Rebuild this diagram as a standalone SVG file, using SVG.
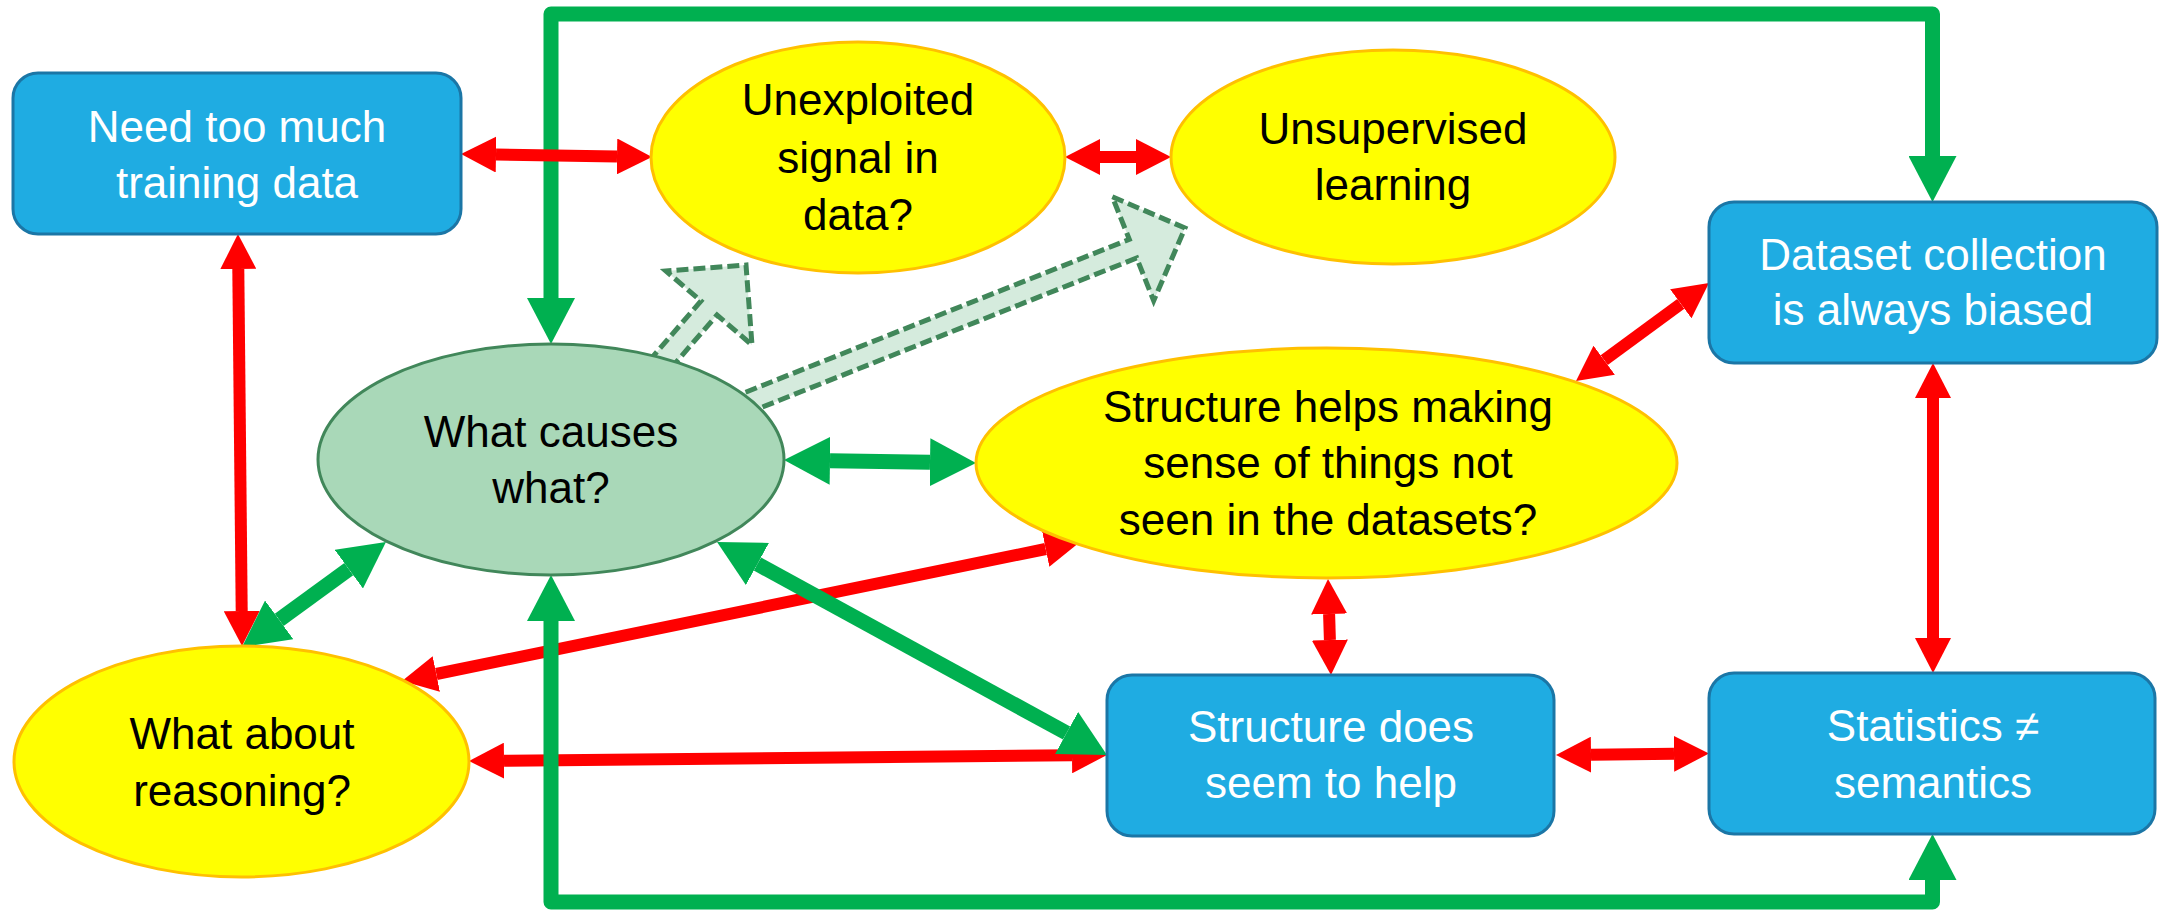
<svg xmlns="http://www.w3.org/2000/svg" width="2167" height="910" viewBox="0 0 2167 910">
<style>
.box{fill:#1FACE2;stroke:#1B76A6;stroke-width:3}
.yel{fill:#FFFF00;stroke:#FFC000;stroke-width:3}
.grn{fill:#A9D8B8;stroke:#41875A;stroke-width:3}
.t{font-family:"Liberation Sans",Arial,sans-serif;font-size:44px;text-anchor:middle}
.w{fill:#FFFFFF}
.k{fill:#000000}
.r{fill:none;stroke:#FF0000;stroke-width:12;marker-start:url(#rh);marker-end:url(#rh)}
.g{fill:none;stroke:#00B050;stroke-width:15;stroke-linejoin:round;marker-start:url(#gh);marker-end:url(#gh)}
.d{fill:#D5EBDD;stroke:#41875A;stroke-width:5;stroke-dasharray:12 5;stroke-linejoin:miter}
</style>
<defs>
<marker id="rh" viewBox="0 0 35 36" refX="0" refY="18" markerWidth="35" markerHeight="36" markerUnits="userSpaceOnUse" orient="auto-start-reverse">
<path d="M0,0 L35,18 L0,36 Z" fill="#FF0000"/>
</marker>
<marker id="gh" viewBox="0 0 46 48" refX="0" refY="24" markerWidth="46" markerHeight="48" markerUnits="userSpaceOnUse" orient="auto-start-reverse">
<path d="M0,0 L46,24 L0,48 Z" fill="#00B050"/>
</marker>
</defs>
<rect width="2167" height="910" fill="#FFFFFF"/>
<g id="connectors">
<polygon class="d" points="649,361 701,301 666,271 746,265 752,345 717,315 665,375"/>
<polygon class="d" points="729.8,398.5 1129.3,239.4 1112.3,196.7 1185,228 1153.7,300.7 1136.7,258 737.2,417.1"/>
<path class="g" d="M551,298 L551,14 L1932.5,14 L1932.5,156"/>
<path class="r" d="M496,154.5 L617,156.5"/>
<path class="r" d="M1100,157 L1136,157"/>
<path class="r" d="M238.3,269 L241.7,611"/>
<path class="r" d="M436.3,674 L1045.7,549"/>
<path class="r" d="M504,760.7 L1072,755.3"/>
<path class="r" d="M1329.1,614 L1329.9,640"/>
<path class="r" d="M1591,754.7 L1674,753.8"/>
<path class="r" d="M1933,398 L1933,638"/>
<path class="r" d="M1604.2,360.2 L1680.8,303.8"/>
<path class="g" d="M279.2,619.9 L348.8,569.1"/>
<path class="g" d="M830,460.7 L930,462.3"/>
<path class="g" d="M757.4,564 L1066.6,733"/>
<path class="g" d="M551,621 L551,902 L1932.5,902 L1932.5,880"/>
</g>
<g id="need-data">
<rect class="box" x="13" y="73" width="448" height="161" rx="25"/>
<text class="t w" x="237" y="142">Need too much</text>
<text class="t w" x="237" y="198">training data</text>
</g>
<g id="unexploited">
<ellipse class="yel" cx="858" cy="157.5" rx="207" ry="115.5"/>
<text class="t k" x="858" y="115">Unexploited</text>
<text class="t k" x="858" y="173">signal in</text>
<text class="t k" x="858" y="230">data?</text>
</g>
<g id="unsupervised">
<ellipse class="yel" cx="1393" cy="157" rx="222" ry="107"/>
<text class="t k" x="1393" y="144">Unsupervised</text>
<text class="t k" x="1393" y="200">learning</text>
</g>
<g id="dataset-bias">
<rect class="box" x="1709" y="202" width="448" height="161" rx="25"/>
<text class="t w" x="1933" y="270">Dataset collection</text>
<text class="t w" x="1933" y="325">is always biased</text>
</g>
<g id="causes">
<ellipse class="grn" cx="551" cy="459.5" rx="233" ry="115.5"/>
<text class="t k" x="551" y="447">What causes</text>
<text class="t k" x="551" y="503">what?</text>
</g>
<g id="structure-sense">
<ellipse class="yel" cx="1326.5" cy="463" rx="350.5" ry="115"/>
<text class="t k" x="1328" y="422">Structure helps making</text>
<text class="t k" x="1328" y="478">sense of things not</text>
<text class="t k" x="1328" y="535">seen in the datasets?</text>
</g>
<g id="reasoning">
<ellipse class="yel" cx="241.5" cy="761.5" rx="227.5" ry="115.5"/>
<text class="t k" x="242" y="749">What about</text>
<text class="t k" x="242" y="806">reasoning?</text>
</g>
<g id="structure-helps">
<rect class="box" x="1107" y="675" width="447" height="161" rx="25"/>
<text class="t w" x="1331" y="742">Structure does</text>
<text class="t w" x="1331" y="798">seem to help</text>
</g>
<g id="statistics">
<rect class="box" x="1709" y="673" width="446" height="161" rx="25"/>
<text class="t w" x="1933" y="741">Statistics ≠</text>
<text class="t w" x="1933" y="798">semantics</text>
</g>
</svg>
